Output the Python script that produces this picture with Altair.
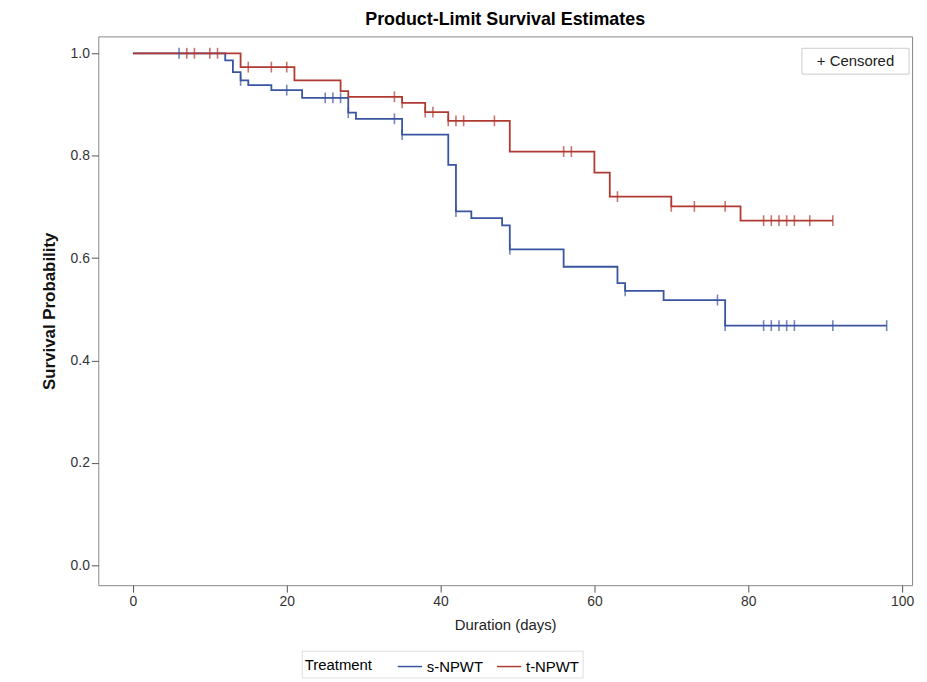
import altair as alt
import pandas as pd

# s-NPWT steps
s_t = [0, 12, 13, 14, 15, 18, 22, 28, 29, 35, 41, 42, 44, 48, 49, 56, 63, 64, 69, 77, 98]
s_s = [1.0, 0.986, 0.963, 0.947, 0.938, 0.928, 0.913, 0.884, 0.872, 0.841, 0.782, 0.691, 0.678, 0.664, 0.617, 0.583, 0.551, 0.536, 0.518, 0.468, 0.468]
s_c = [6, 14, 20, 25, 26, 27, 28, 34, 35, 42, 49, 64, 76, 77, 82, 83, 84, 85, 86, 91, 98]
# t-NPWT steps
t_t = [0, 14, 21, 27, 28, 35, 38, 41, 49, 60, 62, 70, 79, 91]
t_s = [1.0, 0.973, 0.947, 0.926, 0.915, 0.903, 0.885, 0.868, 0.808, 0.767, 0.720, 0.701, 0.673, 0.673]
t_c = [7, 8, 10, 11, 15, 18, 20, 34, 35, 38, 39, 41, 42, 43, 47, 56, 57, 63, 70, 73, 77, 82, 83, 84, 85, 86, 88, 91]

def surv(times, ss, c):
    out = []
    for x in c:
        v = ss[0]
        for tt, sv in zip(times, ss):
            if tt <= x:
                v = sv
        out.append(v)
    return out

lines = pd.DataFrame({"t": s_t + t_t, "s": s_s + t_s,
                      "Treatment": ["s-NPWT"] * len(s_t) + ["t-NPWT"] * len(t_t)})
cens = pd.DataFrame({"t": s_c + t_c, "s": surv(s_t, s_s, s_c) + surv(t_t, t_s, t_c),
                     "Treatment": ["s-NPWT"] * len(s_c) + ["t-NPWT"] * len(t_c)})

F = "Liberation Sans"
H = 553
color = alt.Color("Treatment:N", scale=alt.Scale(domain=["s-NPWT", "t-NPWT"], range=["#3a55a0", "#b03a32"]),
                  legend=alt.Legend(orient="none", legendX=205, legendY=H + 66, direction="horizontal", title="Treatment",
                                    titleOrient="left", symbolType="stroke", symbolSize=600, symbolStrokeWidth=1.5,
                                    labelFontSize=15, titleFontSize=15, titleFontWeight="normal", titlePadding=25,
                                    labelFont=F, titleFont=F, strokeColor="#dddddd", padding=3))
xs = alt.X("t:Q", scale=alt.Scale(domain=[-4.5, 101.3], nice=False, zero=False),
           axis=alt.Axis(values=[0, 20, 40, 60, 80, 100], title="Duration (days)", grid=False,
                         labelFontSize=14, titleFontSize=15, titleFontWeight="normal", labelFont=F, titleFont=F,
                         tickSize=7, titlePadding=10, labelColor="#333", titleColor="#222"))
ys = alt.Y("s:Q", scale=alt.Scale(domain=[-0.039, 1.033], nice=False, zero=False),
           axis=alt.Axis(values=[0, 0.2, 0.4, 0.6, 0.8, 1.0], format=".1f", title="Survival Probability", grid=False,
                         labelFontSize=14, titleFontSize=17, titleFontWeight="bold", labelFont=F, titleFont=F,
                         tickSize=7, titlePadding=12, labelColor="#333", titleColor="#111"))

line = alt.Chart(lines).mark_line(interpolate="step-after", strokeWidth=1.8).encode(x=xs, y=ys, color=color)
pts = alt.Chart(cens).mark_point(shape="M0,-1L0,1", size=120, strokeWidth=1.6, filled=False).encode(
    x="t:Q", y="s:Q", color=alt.Color("Treatment:N", legend=None))
box = alt.Chart(pd.DataFrame({"a": [1]})).mark_rect(fill="white", stroke="#cccccc").encode(
    x=alt.value(709), x2=alt.value(817), y=alt.value(12), y2=alt.value(38))
txt = alt.Chart(pd.DataFrame({"a": ["+ Censored"]})).mark_text(fontSize=15, font=F, align="center", color="#222").encode(
    x=alt.value(763), y=alt.value(25), text="a:N")

chart = alt.layer(line, pts, box, txt).properties(
    width=820, height=H, padding={"left": 32, "top": 1, "right": 5, "bottom": 5},
    title=alt.TitleParams("Product-Limit Survival Estimates", fontSize=18, font=F, fontWeight="bold", offset=7)
).configure_view(stroke="#888888").configure_axis(domain=False, tickColor="#555")

chart.save("out.html", embed_options={"renderer": "svg", "actions": False})
